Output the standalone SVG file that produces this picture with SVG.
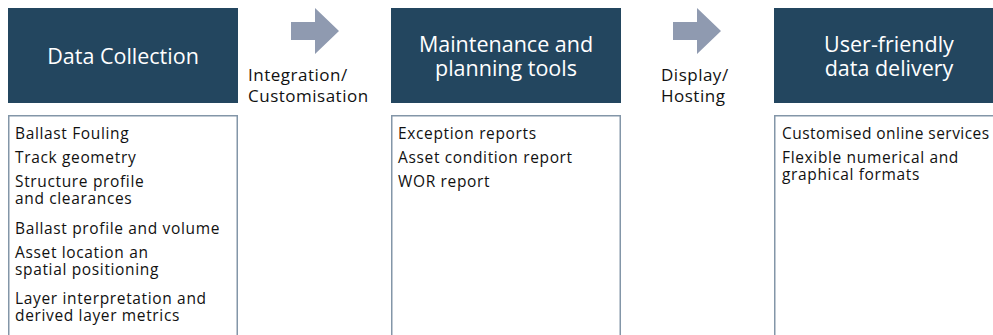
<svg xmlns="http://www.w3.org/2000/svg" width="993" height="335" viewBox="0 0 993 335">
<style>
.hdr{fill:#23465f}
.hdt{fill:#ffffff;font-family:"Open Sans","Noto Sans",sans-serif;font-size:21.5px;text-anchor:middle}
.box{fill:#ffffff;stroke:#8396a8;stroke-width:1.5}
.it{fill:#111111;font-family:"Open Sans","Noto Sans",sans-serif;font-size:15.5px;letter-spacing:0.65px}
.tight{letter-spacing:0.45px}
.lbl{fill:#111111;font-family:"Open Sans","Noto Sans",sans-serif;font-size:17px;letter-spacing:0.5px}
.arr{fill:#8f9ab0}
</style>
<rect width="993" height="335" fill="#ffffff"/>
<g id="col1">
<rect class="hdr" x="8" y="8" width="230" height="95"/>
<text class="hdt" x="123" y="64">Data Collection</text>
<path class="box" d="M8.75,340 V115.75 H237.25 V340"/>
<text class="it" x="15"><tspan x="15" y="139">Ballast Fouling</tspan><tspan x="15" y="163">Track geometry</tspan><tspan x="15" y="187">Structure profile</tspan><tspan x="15" y="204">and clearances</tspan><tspan x="15" y="234">Ballast profile and volume</tspan><tspan x="15" y="258">Asset location an</tspan><tspan x="15" y="275">spatial positioning</tspan><tspan x="15" y="304">Layer interpretation and</tspan><tspan x="15" y="321">derived layer metrics</tspan></text>
</g>
<g id="col2">
<rect class="hdr" x="391" y="8" width="230" height="95"/>
<text class="hdt"><tspan x="506" y="52">Maintenance and</tspan><tspan x="506" y="76">planning tools</tspan></text>
<path class="box" d="M391.75,340 V115.75 H620.25 V340"/>
<text class="it"><tspan x="398" y="139">Exception reports</tspan><tspan x="398" y="163">Asset condition report</tspan><tspan x="398" y="187">WOR report</tspan></text>
</g>
<g id="col3">
<rect class="hdr" x="774" y="8" width="230" height="95"/>
<text class="hdt"><tspan x="889" y="52">User-friendly</tspan><tspan x="889" y="76">data delivery</tspan></text>
<path class="box" d="M774.75,340 V115.75 H1010"/>
<text class="it"><tspan class="tight" x="782" y="139">Customised online services</tspan><tspan x="782" y="163">Flexible numerical and</tspan><tspan x="782" y="180">graphical formats</tspan></text>
</g>
<g id="connectors">
<path class="arr" d="M291,22 H315 V8 L339,31 L315,54 V40 H291 Z"/>
<text class="lbl"><tspan x="248" y="81">Integration/</tspan><tspan x="248" y="102">Customisation</tspan></text>
<path class="arr" d="M673,22 H697 V8 L721,31 L697,54 V40 H673 Z"/>
<text class="lbl"><tspan x="661" y="81">Display/</tspan><tspan x="661" y="102">Hosting</tspan></text>
</g>
</svg>
